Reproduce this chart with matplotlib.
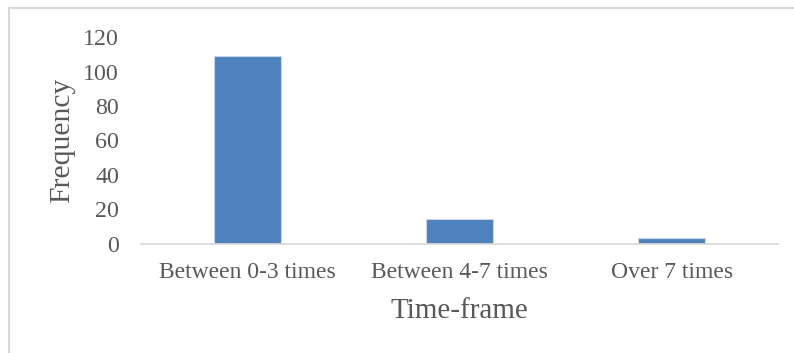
import matplotlib
matplotlib.use("Agg")
import matplotlib.pyplot as plt
from matplotlib.patches import Rectangle

categories = ["Between 0-3 times", "Between 4-7 times", "Over 7 times"]
frequency = [109, 14, 3]
y_ticks = [0, 20, 40, 60, 80, 100, 120]

plt.rcParams["font.family"] = ["Liberation Serif", "DejaVu Serif"]
TEXT = "#595959"

W, H = 794, 353
fig = plt.figure(figsize=(W / 100, H / 100), dpi=100)
ax = fig.add_axes([141 / W, 1 - 243.5 / H, (778 - 141) / W, (243.5 - 37.4) / H])

x = range(len(categories))
ax.bar(x, frequency, width=0.314, color="#4F81BD", edgecolor="#C9D6EA", linewidth=0.8, zorder=2)

ax.set_xlim(-0.5, len(categories) - 0.5)
ax.set_ylim(0, 120)
ax.set_yticks(y_ticks)
ax.set_yticklabels([str(v) for v in y_ticks], fontsize=17.3, color=TEXT)
ax.set_xticks(list(x))
ax.set_xticklabels(categories, fontsize=17, color=TEXT)
ax.tick_params(axis="both", length=0)
ax.tick_params(axis="y", pad=15.8)
ax.tick_params(axis="x", pad=13)

for side in ("top", "right", "left"):
    ax.spines[side].set_visible(False)
ax.spines["bottom"].set_color("#D9D9D9")
ax.spines["bottom"].set_linewidth(1.3)
ax.spines["bottom"].set_zorder(3)

fig.text(62 / W, 1 - 140 / H, "Frequency", rotation=90, ha="center", va="center",
         fontsize=21.3, color=TEXT)
fig.text(459 / W, 1 - 311 / H, "Time-frame", ha="center", va="center",
         fontsize=21, color=TEXT)

# Chart-area frame, running off the right and bottom edges
fig.patches.append(Rectangle((8.5 / W, -0.1), 1.2, 1 - 7.5 / H + 0.1, transform=fig.transFigure,
                             fill=False, edgecolor="#D9D9D9", linewidth=1.5, clip_on=False))

fig.savefig("out.png", dpi=100, facecolor="white")
